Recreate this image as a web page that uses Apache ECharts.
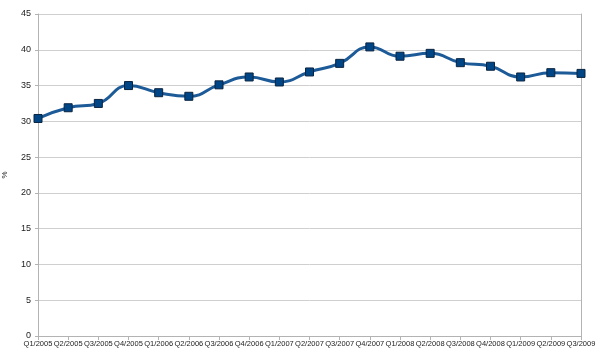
<!DOCTYPE html>
<html><head><meta charset="utf-8">
<script src="https://cdn.jsdelivr.net/npm/echarts@6/dist/echarts.min.js"></script>
<style>html,body{margin:0;padding:0;background:#fff}#c{width:600px;height:363px}</style>
</head><body><div id="c"></div>
<script>
const categories = ["Q1/2005","Q2/2005","Q3/2005","Q4/2005","Q1/2006","Q2/2006","Q3/2006","Q4/2006","Q1/2007","Q2/2007","Q3/2007","Q4/2007","Q1/2008","Q2/2008","Q3/2008","Q4/2008","Q1/2009","Q2/2009","Q3/2009"];
const values = [30.4,31.9,32.5,35.0,34.0,33.5,35.1,36.2,35.5,36.9,38.1,40.4,39.1,39.5,38.2,37.7,36.2,36.8,36.7];
const yTicks = {min:0, max:45, interval:5};
const chart = echarts.init(document.getElementById('c'), null, {renderer:'canvas'});
chart.setOption({
  animation:false,
  grid:{left:38, right:19, top:14, bottom:27, containLabel:false, outerBoundsMode:'none'},
  xAxis:{type:'category', data:categories, boundaryGap:false,
    axisLine:{lineStyle:{color:'#b3b3b3'}},
    axisTick:{show:true, length:4, interval:0, lineStyle:{color:'#b3b3b3'}},
    axisLabel:{interval:0, fontSize:7.5, color:'#222', fontFamily:'Liberation Sans', margin:4, hideOverlap:false},
    splitLine:{show:false}},
  yAxis:[{type:'value', min:yTicks.min, max:yTicks.max, interval:yTicks.interval,
    name:'%', nameLocation:'middle', nameGap:29, nameRotate:90,
    nameTextStyle:{fontSize:8, color:'#222', fontFamily:'Liberation Sans'},
    axisLine:{show:true, lineStyle:{color:'#b3b3b3'}},
    axisTick:{show:true, length:3, lineStyle:{color:'#b3b3b3'}},
    axisLabel:{fontSize:9, color:'#222', fontFamily:'Liberation Sans', margin:7},
    splitLine:{lineStyle:{color:'#cfcfcf', width:1}}},
   {type:'value', min:yTicks.min, max:yTicks.max, interval:yTicks.interval, position:'right',
    axisLine:{show:true, lineStyle:{color:'#b3b3b3'}}, axisTick:{show:false}, axisLabel:{show:false}, splitLine:{show:false}}],
  series:[{type:'line', data:values, smooth:0.5, yAxisIndex:0,
    lineStyle:{color:'#1d5a98', width:3},
    symbol:'rect', symbolSize:8,
    itemStyle:{color:'#004586', borderColor:'#0a2440', borderWidth:1}}]
});
</script></body></html>
